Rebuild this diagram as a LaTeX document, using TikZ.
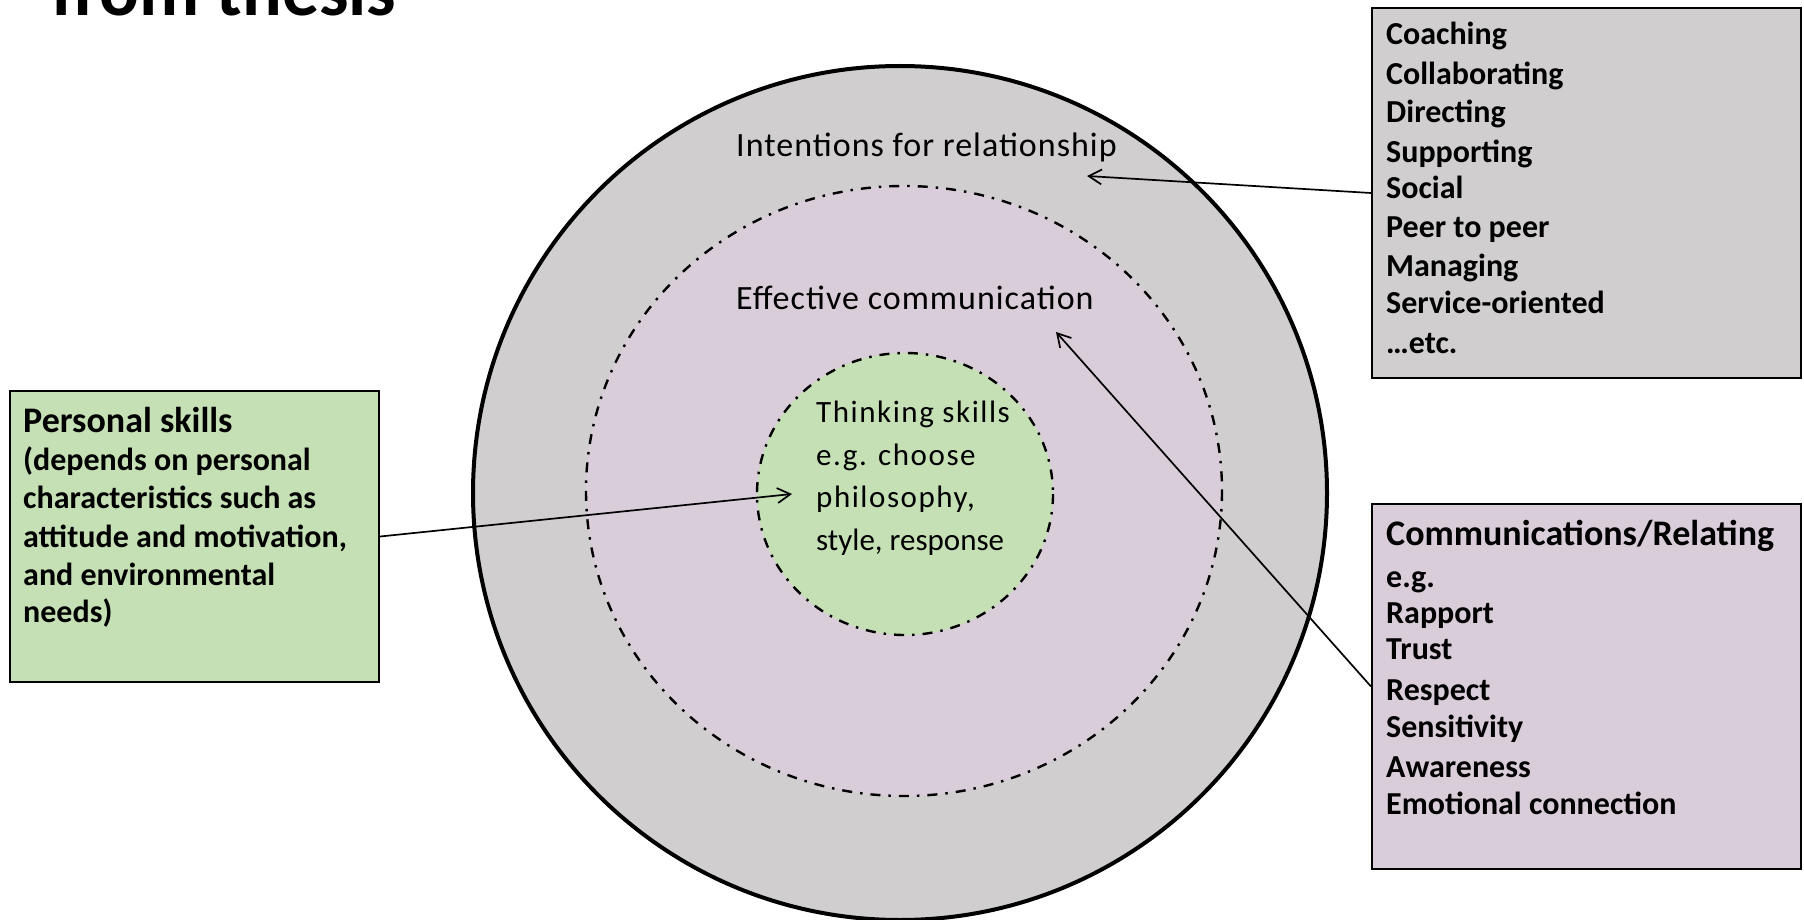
\documentclass[tikz,border=0pt]{standalone}
\usepackage{fontspec}
\setmainfont{Carlito}
\newfontfamily\ringfont[LetterSpace=3]{Carlito}
\newfontfamily\ringfontwide[LetterSpace=5]{Carlito}
\usetikzlibrary{arrows.meta}
\definecolor{grayfill}{HTML}{D0CECE}
\definecolor{pinkfill}{HTML}{D9CDD9}
\definecolor{greenfill}{HTML}{C5E0B4}
\tikzset{
  boxshape/.style={draw=black, line width=2pt, rectangle, anchor=north west, inner sep=0pt},
  itemtxt/.style={anchor=base west, inner sep=0pt, font=\bfseries\fontsize{32}{38}\selectfont},
  headtxt/.style={anchor=base west, inner sep=0pt, font=\bfseries\fontsize{36}{42}\selectfont},
  ringtxt/.style={anchor=base west, inner sep=0pt, font=\ringfont\fontsize{34}{40}\selectfont},
  thinktxt/.style={anchor=base west, inner sep=0pt, font=\ringfontwide\fontsize{31}{37}\selectfont},
  dashdot/.style={line width=2.4pt, dash pattern=on 10pt off 8pt on 2.5pt off 8pt},
  arr/.style={line width=1.7pt, -{Straight Barb[length=13pt,width=15pt,line width=1.7pt]}}
}
\begin{document}
\begin{tikzpicture}[x=1pt,y=-1pt]
\useasboundingbox (0,0) rectangle (1804,920);
\clip (0,0) rectangle (1804,920);
\fill[white] (0,0) rectangle (1804,920);

% title (cut off at the top)
\node[anchor=base west, inner sep=0pt, font=\bfseries\fontsize{74}{80}\selectfont] (title) at (51,16) {from thesis};

% rings
\draw[line width=4pt, fill=grayfill] (900,493) circle[radius=427];
\draw[dashdot, fill=pinkfill] (904,491) ellipse[x radius=318, y radius=305];
\draw[dashdot, fill=greenfill] (905,494) ellipse[x radius=148, y radius=141];

\node[ringtxt] (intent) at (736,157) {Intentions for relationship};
\node[ringtxt] (effect) at (736,309) {Effective communication};
\node[thinktxt] (think1) at (816,422) {Thinking skills};
\node[thinktxt] (think2) at (816,465) {e.g. choose};
\node[thinktxt] (think3) at (816,507) {philosophy,};
\node[thinktxt, font=\fontsize{31}{37}\selectfont] (think4) at (816,550) {style, response};

% boxes
\node[boxshape, fill=grayfill, minimum width=429pt, minimum height=370pt] (gbox) at (1371,7) {};
\node[boxshape, fill=pinkfill, minimum width=429pt, minimum height=365pt] (pbox) at (1371,503) {};
\node[boxshape, fill=greenfill, minimum width=369pt, minimum height=291pt] (lbox) at (9,390) {};

% gray box text
\foreach \t/\yy [count=\i] in {{Coaching}/45, {Collaborating}/85, {Directing}/123, {Supporting}/163, {Social}/199, {Peer to peer}/237, {Managing}/276, {Service-oriented}/313, {\ldots etc.}/353}
  \node[itemtxt] (g\i) at (1386,\yy) {\t};

% pink box text
\node[headtxt] (p0) at (1386,545) {Communications/Relating};
\foreach \t/\yy [count=\i] in {{e.g.}/587, {Rapport}/623, {Trust}/659, {Respect}/700, {Sensitivity}/737, {Awareness}/777, {Emotional connection}/814}
  \node[itemtxt] (p\i) at (1386,\yy) {\t};

% green box text
\node[headtxt] (l0) at (23,432) {Personal skills};
\foreach \t/\yy [count=\i] in {{(depends on personal}/470, {characteristics such as}/508, {attitude and motivation,}/547, {and environmental}/585, {needs)}/622}
  \node[itemtxt] (l\i) at (23,\yy) {\t};

% connectors
\coordinate (intentpt) at (1087,176);
\coordinate (commpt) at (1056,332);
\coordinate (thinkpt) at (792,494);
\draw[arr] (gbox.west) -- (intentpt);
\draw[arr] (pbox.west) -- (commpt);
\draw[arr] (lbox.east) -- (thinkpt);
\end{tikzpicture}
\end{document}
